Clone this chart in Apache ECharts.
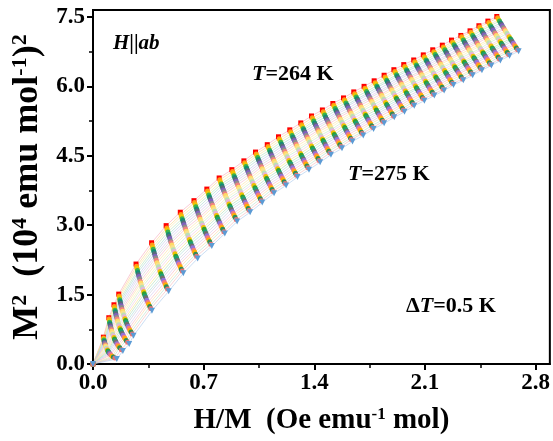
<!DOCTYPE html>
<html>
<head>
<meta charset="utf-8">
<script src="https://cdn.jsdelivr.net/npm/echarts@6/dist/echarts.min.js"></script>
<style>
  html, body { margin: 0; padding: 0; background: #fff; }
  #chart { width: 553px; height: 441px; }
</style>
</head>
<body>
<div id="chart"></div>
<script>
// Isotherm temperatures (K)
const temperatures = [264, 264.5, 265, 265.5, 266, 266.5, 267, 267.5, 268, 268.5, 269, 269.5,
  270, 270.5, 271, 271.5, 272, 272.5, 273, 273.5, 274, 274.5, 275];

// Applied fields (Oe) of each isotherm
const fields = [5, 10, 15, 20, 40, 60, 80, 100, 120, 140, 160, 180, 200, 220, 240, 260, 280, 300,
  320, 340, 360, 380, 400, 420, 440, 460, 480, 500, 520, 540, 560, 580, 600, 620, 640, 660, 680, 700];

// M^2 (10^4 emu^2 mol^-2) at each field, listed from 264 K to 275 K
const m2At5   = [0.58,0.56,0.54,0.52,0.49,0.47,0.45,0.43,0.41,0.39,0.37,0.34,0.32,0.30,0.28,0.26,0.24,0.22,0.20,0.17,0.15,0.13,0.11];
const m2At10  = [1.00,0.97,0.93,0.90,0.87,0.84,0.80,0.77,0.74,0.71,0.67,0.64,0.61,0.57,0.54,0.51,0.48,0.44,0.41,0.38,0.35,0.31,0.28];
const m2At15  = [1.28,1.24,1.20,1.16,1.13,1.09,1.05,1.01,0.97,0.93,0.89,0.85,0.82,0.78,0.74,0.70,0.66,0.62,0.58,0.55,0.51,0.47,0.43];
const m2At20  = [1.51,1.47,1.43,1.39,1.35,1.31,1.26,1.22,1.18,1.14,1.10,1.06,1.02,0.98,0.94,0.90,0.86,0.81,0.77,0.73,0.69,0.65,0.61];
const m2At40  = [2.16,2.11,2.07,2.02,1.98,1.93,1.89,1.84,1.79,1.75,1.70,1.66,1.61,1.56,1.52,1.47,1.43,1.38,1.33,1.29,1.24,1.20,1.15];
const m2At60  = [2.62,2.57,2.52,2.48,2.43,2.38,2.33,2.29,2.24,2.19,2.14,2.10,2.05,2.00,1.95,1.90,1.86,1.81,1.76,1.71,1.67,1.62,1.57];
const m2At80  = [2.99,2.94,2.90,2.85,2.80,2.76,2.71,2.66,2.62,2.57,2.52,2.47,2.43,2.38,2.33,2.29,2.24,2.19,2.15,2.10,2.05,2.01,1.96];
const m2At100 = [3.28,3.23,3.19,3.14,3.10,3.05,3.01,2.96,2.92,2.87,2.83,2.78,2.73,2.69,2.64,2.60,2.55,2.51,2.46,2.42,2.37,2.33,2.28];
const m2At120 = [3.53,3.49,3.44,3.40,3.35,3.31,3.26,3.22,3.17,3.13,3.08,3.04,3.00,2.95,2.91,2.86,2.82,2.77,2.73,2.68,2.64,2.59,2.55];
const m2At140 = [3.78,3.74,3.69,3.65,3.61,3.56,3.52,3.47,3.43,3.39,3.34,3.30,3.26,3.21,3.17,3.13,3.08,3.04,2.99,2.95,2.91,2.86,2.82];
const m2At160 = [4.02,3.98,3.93,3.89,3.85,3.81,3.76,3.72,3.68,3.64,3.59,3.55,3.51,3.46,3.42,3.38,3.34,3.29,3.25,3.21,3.17,3.12,3.08];
const m2At180 = [4.20,4.16,4.12,4.07,4.03,3.99,3.95,3.91,3.87,3.82,3.78,3.74,3.70,3.66,3.61,3.57,3.53,3.49,3.45,3.41,3.36,3.32,3.28];
const m2At200 = [4.39,4.35,4.31,4.27,4.23,4.18,4.14,4.10,4.06,4.02,3.98,3.94,3.90,3.86,3.81,3.77,3.73,3.69,3.65,3.61,3.57,3.53,3.49];
const m2At220 = [4.58,4.54,4.50,4.46,4.42,4.38,4.34,4.30,4.26,4.22,4.18,4.13,4.09,4.05,4.01,3.97,3.93,3.89,3.85,3.81,3.77,3.73,3.69];
const m2At240 = [4.74,4.70,4.66,4.62,4.58,4.54,4.50,4.46,4.42,4.38,4.34,4.30,4.26,4.22,4.18,4.14,4.10,4.06,4.02,3.98,3.94,3.90,3.86];
const m2At260 = [4.91,4.87,4.83,4.79,4.75,4.71,4.67,4.63,4.59,4.55,4.51,4.48,4.44,4.40,4.36,4.32,4.28,4.24,4.20,4.16,4.12,4.08,4.04];
const m2At280 = [5.06,5.02,4.98,4.94,4.90,4.86,4.83,4.79,4.75,4.71,4.67,4.63,4.59,4.55,4.51,4.47,4.43,4.40,4.36,4.32,4.28,4.24,4.20];
const m2At300 = [5.21,5.17,5.13,5.09,5.06,5.02,4.98,4.94,4.90,4.86,4.82,4.79,4.75,4.71,4.67,4.63,4.59,4.55,4.51,4.48,4.44,4.40,4.36];
const m2At320 = [5.36,5.32,5.28,5.25,5.21,5.17,5.13,5.09,5.05,5.02,4.98,4.94,4.90,4.86,4.83,4.79,4.75,4.71,4.67,4.63,4.60,4.56,4.52];
const m2At340 = [5.49,5.45,5.41,5.38,5.34,5.30,5.26,5.23,5.19,5.15,5.11,5.07,5.04,5.00,4.96,4.92,4.89,4.85,4.81,4.77,4.74,4.70,4.66];
const m2At360 = [5.63,5.59,5.56,5.52,5.48,5.44,5.41,5.37,5.33,5.29,5.26,5.22,5.18,5.15,5.11,5.07,5.03,5.00,4.96,4.92,4.88,4.85,4.81];
const m2At380 = [5.75,5.71,5.68,5.64,5.60,5.57,5.53,5.49,5.46,5.42,5.38,5.35,5.31,5.27,5.24,5.20,5.16,5.12,5.09,5.05,5.01,4.98,4.94];
const m2At400 = [5.88,5.84,5.81,5.77,5.73,5.70,5.66,5.62,5.59,5.55,5.51,5.48,5.44,5.40,5.37,5.33,5.29,5.26,5.22,5.19,5.15,5.11,5.08];
const m2At420 = [6.00,5.96,5.93,5.89,5.85,5.82,5.78,5.75,5.71,5.67,5.64,5.60,5.56,5.53,5.49,5.45,5.42,5.38,5.35,5.31,5.27,5.24,5.20];
const m2At440 = [6.12,6.08,6.05,6.01,5.98,5.94,5.90,5.87,5.83,5.80,5.76,5.72,5.69,5.65,5.61,5.58,5.54,5.51,5.47,5.43,5.40,5.36,5.33];
const m2At460 = [6.24,6.20,6.17,6.13,6.10,6.06,6.02,5.99,5.95,5.92,5.88,5.85,5.81,5.77,5.74,5.70,5.67,5.63,5.59,5.56,5.52,5.49,5.45];
const m2At480 = [6.36,6.32,6.29,6.25,6.22,6.18,6.15,6.11,6.07,6.04,6.00,5.97,5.93,5.90,5.86,5.83,5.79,5.75,5.72,5.68,5.65,5.61,5.58];
const m2At500 = [6.47,6.43,6.40,6.36,6.33,6.29,6.26,6.22,6.19,6.15,6.12,6.08,6.04,6.01,5.97,5.94,5.90,5.87,5.83,5.80,5.76,5.73,5.69];
const m2At520 = [6.57,6.53,6.50,6.46,6.43,6.39,6.36,6.32,6.29,6.25,6.22,6.18,6.15,6.11,6.08,6.04,6.01,5.97,5.94,5.90,5.87,5.83,5.80];
const m2At540 = [6.68,6.64,6.61,6.57,6.54,6.50,6.47,6.43,6.40,6.36,6.33,6.29,6.26,6.22,6.19,6.15,6.12,6.08,6.05,6.01,5.98,5.94,5.91];
const m2At560 = [6.79,6.75,6.72,6.69,6.65,6.62,6.58,6.55,6.51,6.48,6.44,6.41,6.37,6.34,6.30,6.27,6.23,6.20,6.16,6.13,6.09,6.06,6.03];
const m2At580 = [6.89,6.85,6.82,6.79,6.75,6.72,6.68,6.65,6.61,6.58,6.54,6.51,6.48,6.44,6.41,6.37,6.34,6.30,6.27,6.23,6.20,6.16,6.13];
const m2At600 = [7.00,6.96,6.93,6.90,6.86,6.83,6.79,6.76,6.72,6.69,6.65,6.62,6.58,6.55,6.52,6.48,6.45,6.41,6.38,6.34,6.31,6.27,6.24];
const m2At620 = [7.10,7.07,7.03,7.00,6.96,6.93,6.89,6.86,6.83,6.79,6.76,6.72,6.69,6.65,6.62,6.59,6.55,6.52,6.48,6.45,6.41,6.38,6.35];
const m2At640 = [7.20,7.17,7.13,7.10,7.06,7.03,6.99,6.96,6.93,6.89,6.86,6.82,6.79,6.75,6.72,6.69,6.65,6.62,6.58,6.55,6.51,6.48,6.45];
const m2At660 = [7.31,7.28,7.24,7.21,7.17,7.14,7.11,7.07,7.04,7.00,6.97,6.94,6.90,6.87,6.83,6.80,6.77,6.73,6.70,6.66,6.63,6.59,6.56];
const m2At680 = [7.41,7.38,7.34,7.31,7.27,7.24,7.21,7.17,7.14,7.10,7.07,7.04,7.00,6.97,6.93,6.90,6.87,6.83,6.80,6.76,6.73,6.69,6.66];
const m2At700 = [7.51,7.48,7.44,7.41,7.37,7.34,7.31,7.27,7.24,7.20,7.17,7.14,7.10,7.07,7.03,7.00,6.97,6.93,6.90,6.86,6.83,6.79,6.76];

const m2Columns = [m2At5, m2At10, m2At15, m2At20, m2At40, m2At60, m2At80, m2At100, m2At120, m2At140,
  m2At160, m2At180, m2At200, m2At220, m2At240, m2At260, m2At280, m2At300, m2At320, m2At340, m2At360,
  m2At380, m2At400, m2At420, m2At440, m2At460, m2At480, m2At500, m2At520, m2At540, m2At560, m2At580,
  m2At600, m2At620, m2At640, m2At660, m2At680, m2At700];

// Axis ticks
const xTicks = [0, 0.7, 1.4, 2.1, 2.8];
const xMinorTicks = [0.35, 1.05, 1.75, 2.45];
const yTicks = [0, 1.5, 3.0, 4.5, 6.0, 7.5];
const yMinorTicks = [0.75, 2.25, 3.75, 5.25, 6.75];

// Marker colour for each isotherm, 264 K first
const markerColors = ['#ff0000', '#ff9a1a', '#f2c500', '#3cb44b', '#138d75', '#556b7a', '#7f5fbf', '#8c8c8c',
  '#f08080', '#ffd966', '#f7e28c', '#b9dfbb', '#e8b4d8', '#f2c200', '#33a02c', '#1b9e77', '#6e6e6e',
  '#9370db', '#f47c7c', '#ffb000', '#2e8b57', '#e97171', '#5b9bd5'];
// Connecting-line tint for each isotherm
const lineColors = ['#f7a8b8', '#fbd38d', '#f9e79f', '#b5e3b5', '#a8d8d0', '#b8c8e8', '#d5c2ef', '#d0d0d0',
  '#f7b7c7', '#fde3a0', '#f9eeb0', '#c8e8c8', '#f0c8e4', '#f9e08a', '#b0ddb0', '#a8dcd8', '#c8c8d8',
  '#d8c8f0', '#f8b8c0', '#fcd9a0', '#b8e0c8', '#f4b8b8', '#a8c8ec'];

const SERIF = "'Liberation Serif', 'DejaVu Serif', serif";

const series = temperatures.map((T, i) => {
  const pts = [[0, 0]];
  fields.forEach((H, j) => {
    const m2 = m2Columns[j][i];
    pts.push([H / (100 * Math.sqrt(m2)), m2]);
  });
  const last = i === temperatures.length - 1;
  return {
    type: 'line',
    name: T + ' K',
    data: pts,
    xAxisIndex: 0,
    yAxisIndex: 0,
    symbol: i === 0 ? 'rect' : (last ? 'triangle' : 'circle'),
    symbolRotate: last ? 180 : 0,
    symbolSize: last ? 6 : 5,
    showAllSymbol: true,
    itemStyle: { color: markerColors[i] },
    lineStyle: { color: lineColors[i], width: 0.8, opacity: 0.75 },
    emphasis: { disabled: true },
    silent: true
  };
});

const tickLabelStyle = { fontFamily: SERIF, fontWeight: 'bold', fontSize: 23, color: '#000' };
const xTitleRich = {
  b: { fontFamily: SERIF, fontWeight: 'bold', fontSize: 29, color: '#000' },
  s: { fontFamily: SERIF, fontWeight: 'bold', fontSize: 17, color: '#000', verticalAlign: 'top', lineHeight: 16 }
};
const yTitleRich = {
  b: { fontFamily: SERIF, fontWeight: 'bold', fontSize: 36, color: '#000' },
  s: { fontFamily: SERIF, fontWeight: 'bold', fontSize: 22, color: '#000', verticalAlign: 'top', lineHeight: 20 }
};
const noteRich = {
  n: { fontFamily: SERIF, fontWeight: 'bold', fontSize: 22, color: '#000' },
  i: { fontFamily: SERIF, fontWeight: 'bold', fontStyle: 'italic', fontSize: 22, color: '#000' },
  sn: { fontFamily: SERIF, fontWeight: 'bold', fontSize: 21, color: '#000' },
  si: { fontFamily: SERIF, fontWeight: 'bold', fontStyle: 'italic', fontSize: 21, color: '#000' }
};

const chart = echarts.init(document.getElementById('chart'), null, { renderer: 'canvas' });
chart.setOption({
  animation: false,
  backgroundColor: '#fff',
  grid: { left: 93, right: 2, top: 10, bottom: 77, show: true, borderColor: '#000', borderWidth: 2, backgroundColor: 'transparent' },
  xAxis: [
    {
      type: 'value', min: 0, max: 2.89, position: 'bottom',
      axisLine: { show: true, lineStyle: { color: '#000', width: 2 } },
      axisTick: { show: true, customValues: xTicks, length: 6, lineStyle: { color: '#000', width: 2 } },
      axisLabel: { customValues: xTicks, formatter: v => v.toFixed(1), margin: 8, ...tickLabelStyle },
      splitLine: { show: false },
      name: '{b|H/M  (Oe emu}{s|-1}{b| mol)}',
      nameLocation: 'middle', nameGap: 42,
      nameTextStyle: { rich: xTitleRich }
    },
    {
      type: 'value', min: 0, max: 2.89, position: 'bottom',
      axisLine: { show: false },
      axisTick: { show: true, customValues: xMinorTicks, length: 4, lineStyle: { color: '#000', width: 1.5 } },
      axisLabel: { show: false },
      splitLine: { show: false }
    }
  ],
  yAxis: [
    {
      type: 'value', min: 0, max: 7.65, position: 'left',
      axisLine: { show: true, lineStyle: { color: '#000', width: 2 } },
      axisTick: { show: true, customValues: yTicks, length: 6, lineStyle: { color: '#000', width: 2 } },
      axisLabel: { customValues: yTicks, formatter: v => v.toFixed(1), margin: 8, ...tickLabelStyle },
      splitLine: { show: false },
      name: '{b|M}{s|2}{b|  (10}{s|4}{b| emu mol}{s|-1}{b|)}{s|2}',
      nameLocation: 'middle', nameGap: 44, nameRotate: 90,
      nameTextStyle: { rich: yTitleRich }
    },
    {
      type: 'value', min: 0, max: 7.65, position: 'left',
      axisLine: { show: false },
      axisTick: { show: true, customValues: yMinorTicks, length: 4, lineStyle: { color: '#000', width: 1.5 } },
      axisLabel: { show: false },
      splitLine: { show: false }
    }
  ],
  series: series,
  graphic: [
    { type: 'text', left: 113, top: 33, style: { text: '{si|H}{sn|||}{si|ab}', rich: noteRich } },
    { type: 'text', left: 252, top: 63, style: { text: '{i|T}{n|=264 K}', rich: noteRich } },
    { type: 'text', left: 348, top: 163, style: { text: '{i|T}{n|=275 K}', rich: noteRich } },
    { type: 'text', left: 406, top: 295, style: { text: '{n|Δ}{i|T}{n|=0.5 K}', rich: noteRich } }
  ]
});
</script>
</body>
</html>
